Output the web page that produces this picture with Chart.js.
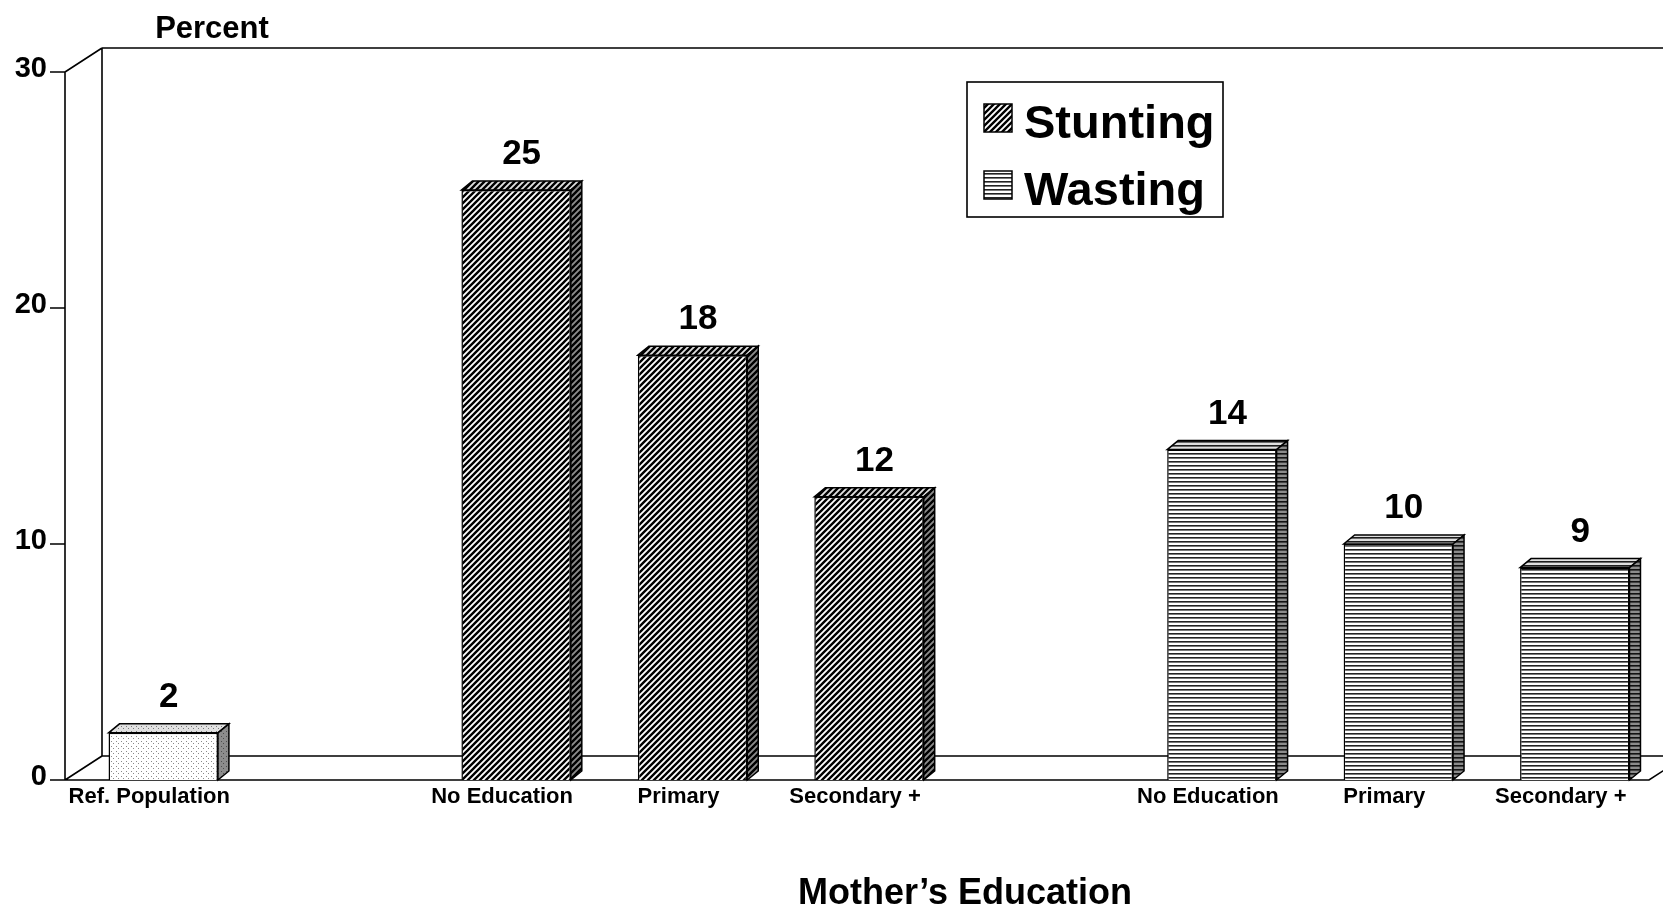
<!DOCTYPE html>
<html>
<head>
<meta charset="utf-8">
<script src="https://cdn.jsdelivr.net/npm/chart.js@4.4.0/dist/chart.umd.min.js"></script>
<style>
  html, body { margin: 0; padding: 0; background: #fff; }
  #grafico { display: block; }
</style>
</head>
<body>
<canvas id="grafico" width="1663" height="909"></canvas>
<script>
// Dados
const categorias = ['Ref. Population', '', 'No Education', 'Primary', 'Secondary +', '', 'No Education', 'Primary', 'Secondary +'];
const refPopulacao = [2, null, null, null, null, null, null, null, null];
const stunting = [null, null, 25, 18, 12, null, null, null, null];
const wasting = [null, null, null, null, null, null, 14, 10, 9];
const ticksY = [0, 10, 20, 30];

const FONTE = '"Liberation Sans", Arial, sans-serif';
const EIXO_X = 65;                     // eixo frontal
const PROF = { dx: 11, dy: -9 };       // profundidade das barras
const PAREDE = { dx: 37, dy: -24 };    // profundidade do fundo

function criarPadrao(w, h, desenhar) {
  const c = document.createElement('canvas');
  c.width = w; c.height = h;
  const g = c.getContext('2d');
  g.fillStyle = '#fff';
  g.fillRect(0, 0, w, h);
  desenhar(g);
  return document.getElementById('grafico').getContext('2d').createPattern(c, 'repeat');
}

const padraoPontos = criarPadrao(5, 5, (g) => {
  g.fillStyle = '#8a8a8a';
  g.fillRect(1, 1, 1, 1);
  g.fillRect(3, 3, 1, 1);
});

const padraoDiagonal = criarPadrao(6, 6, (g) => {
  g.strokeStyle = '#000';
  g.lineWidth = 2.4;
  g.beginPath();
  g.moveTo(-1, 7); g.lineTo(7, -1);
  g.moveTo(-1, 1); g.lineTo(1, -1);
  g.moveTo(5, 7); g.lineTo(7, 5);
  g.stroke();
});

const padraoHorizontal = criarPadrao(4, 4, (g) => {
  g.fillStyle = '#222';
  g.fillRect(0, 1, 4, 1.6);
});

const moldura3d = {
  id: 'moldura3d',
  beforeDatasetsDraw(chart) {
    const { ctx, chartArea: a, scales: { y } } = chart;
    const topo = y.getPixelForValue(30);
    const base = y.getPixelForValue(0);
    const fundoX = EIXO_X + PAREDE.dx;
    ctx.save();
    ctx.strokeStyle = '#000';
    ctx.lineWidth = 1.6;
    ctx.beginPath();
    // eixo frontal
    ctx.moveTo(EIXO_X, topo); ctx.lineTo(EIXO_X, base);
    // diagonais
    ctx.moveTo(EIXO_X, topo); ctx.lineTo(fundoX, topo + PAREDE.dy);
    ctx.moveTo(EIXO_X, base); ctx.lineTo(fundoX, base + PAREDE.dy);
    // parede do fundo
    ctx.moveTo(fundoX, topo + PAREDE.dy); ctx.lineTo(fundoX, base + PAREDE.dy);
    ctx.moveTo(fundoX, topo + PAREDE.dy); ctx.lineTo(chart.width, topo + PAREDE.dy);
    // piso
    ctx.moveTo(fundoX, base + PAREDE.dy); ctx.lineTo(chart.width, base + PAREDE.dy);
    ctx.moveTo(EIXO_X, base); ctx.lineTo(a.right - 14, base);
    ctx.lineTo(a.right - 14 + PAREDE.dx, base + PAREDE.dy);
    // marcas do eixo Y
    ticksY.forEach((v) => {
      const py = y.getPixelForValue(v);
      ctx.moveTo(EIXO_X - 15, py); ctx.lineTo(EIXO_X, py);
    });
    ctx.stroke();
    ctx.restore();
  },
  afterDatasetsDraw(chart) {
    const { ctx } = chart;
    ctx.save();
    chart.data.datasets.forEach((ds, i) => {
      const meta = chart.getDatasetMeta(i);
      meta.data.forEach((bar, j) => {
        const valor = ds.data[j];
        if (valor === null) return;
        const { x, y, base, width } = bar.getProps(['x', 'y', 'base', 'width'], true);
        const esq = x - width / 2, dir = x + width / 2;
        // face superior
        ctx.beginPath();
        ctx.moveTo(esq, y);
        ctx.lineTo(esq + PROF.dx, y + PROF.dy);
        ctx.lineTo(dir + PROF.dx, y + PROF.dy);
        ctx.lineTo(dir, y);
        ctx.closePath();
        ctx.fillStyle = ds.backgroundColor;
        ctx.fill();
        ctx.fillStyle = 'rgba(0,0,0,0.12)';
        ctx.fill();
        ctx.strokeStyle = '#000';
        ctx.lineWidth = 1.5;
        ctx.stroke();
        // face lateral
        ctx.beginPath();
        ctx.moveTo(dir, y);
        ctx.lineTo(dir + PROF.dx, y + PROF.dy);
        ctx.lineTo(dir + PROF.dx, base + PROF.dy);
        ctx.lineTo(dir, base);
        ctx.closePath();
        ctx.fillStyle = ds.backgroundColor;
        ctx.fill();
        ctx.fillStyle = 'rgba(0,0,0,0.45)';
        ctx.fill();
        ctx.stroke();
        // rótulo do valor
        ctx.fillStyle = '#000';
        ctx.font = `bold 35px ${FONTE}`;
        ctx.textAlign = 'center';
        ctx.textBaseline = 'alphabetic';
        ctx.fillText(String(valor), x + PROF.dx / 2, y + PROF.dy - 17);
      });
    });
    ctx.restore();
  },
  afterDraw(chart) {
    const { ctx, scales: { x, y } } = chart;
    ctx.save();
    ctx.fillStyle = '#000';
    // rótulos do eixo Y
    ctx.font = `bold 29px ${FONTE}`;
    ctx.textAlign = 'right';
    ctx.textBaseline = 'alphabetic';
    ticksY.forEach((v) => ctx.fillText(String(v), EIXO_X - 18, y.getPixelForValue(v) + 5));
    // título do eixo Y
    ctx.font = `bold 31px ${FONTE}`;
    ctx.textAlign = 'center';
    ctx.fillText('Percent', 212, 38);
    // rótulos das categorias
    ctx.font = `bold 22px ${FONTE}`;
    categorias.forEach((c, i) => {
      if (c) ctx.fillText(c, x.getPixelForValue(i) - 14, 803);
    });
    // título do eixo X
    ctx.font = `bold 36px ${FONTE}`;
    ctx.fillText('Mother\u2019s Education', 965, 904);
    // legenda
    const leg = { x: 967, y: 82, w: 256, h: 135 };
    ctx.strokeStyle = '#000';
    ctx.lineWidth = 1.6;
    ctx.strokeRect(leg.x, leg.y, leg.w, leg.h);
    const itens = [chart.data.datasets[1], chart.data.datasets[2]];
    itens.forEach((ds, k) => {
      const qy = 104 + k * 67;
      ctx.fillStyle = ds.backgroundColor;
      ctx.fillRect(984, qy, 28, 28);
      ctx.lineWidth = 1.5;
      ctx.strokeRect(984, qy, 28, 28);
      ctx.fillStyle = '#000';
      ctx.font = `bold 47px ${FONTE}`;
      ctx.textAlign = 'left';
      ctx.fillText(ds.label, 1024, 138 + k * 67);
    });
    ctx.restore();
  }
};

new Chart(document.getElementById('grafico'), {
  type: 'bar',
  data: {
    labels: categorias,
    datasets: [
      { label: 'Ref. Population', data: refPopulacao, backgroundColor: padraoPontos },
      { label: 'Stunting', data: stunting, backgroundColor: padraoDiagonal },
      { label: 'Wasting', data: wasting, backgroundColor: padraoHorizontal }
    ]
  },
  options: {
    responsive: false,
    animation: false,
    layout: { padding: { left: 75, right: -4, top: 72, bottom: 129 } },
    datasets: { bar: { grouped: false, barPercentage: 0.62, categoryPercentage: 1, borderColor: '#000', borderWidth: 1.5 } },
    plugins: { legend: { display: false }, tooltip: { enabled: false } },
    scales: {
      x: { display: false },
      y: { display: false, min: 0, max: 30 }
    }
  },
  plugins: [moldura3d]
});
</script>
</body>
</html>
